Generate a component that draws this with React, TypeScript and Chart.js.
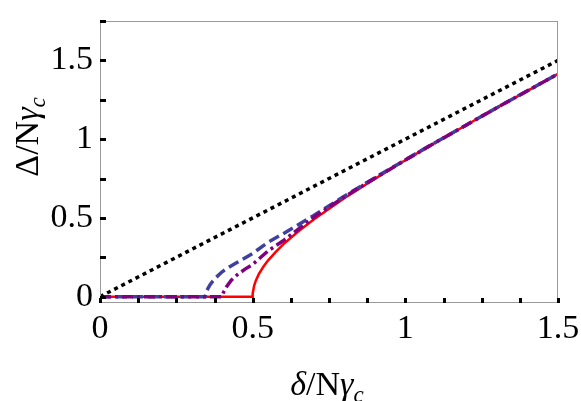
import { useEffect, useRef } from "react";
import { Chart, registerables } from "chart.js";
Chart.register(...registerables);

// δ/Nγc values and Δ/Nγc values
const diagX = [0, 1.5];
const diagY = [0, 1.5];

const redX = [0, 0.5, 0.5, 0.505, 0.51, 0.52, 0.535, 0.55, 0.575, 0.6, 0.65, 0.7, 0.8, 0.9, 1.0, 1.1, 1.2, 1.3, 1.4, 1.5];
const redY = [0, 0, 0.02, 0.071, 0.1, 0.143, 0.19, 0.229, 0.283, 0.332, 0.415, 0.49, 0.625, 0.748, 0.866, 0.98, 1.09, 1.2, 1.307, 1.414];

const blueX = [0, 0.344, 0.35, 0.36, 0.37, 0.38, 0.4, 0.425, 0.45, 0.5, 0.55, 0.6, 0.7, 0.8, 0.9, 1.0, 1.1, 1.2, 1.3, 1.4, 1.5];
const blueY = [0, 0, 0.04, 0.075, 0.1, 0.122, 0.158, 0.19, 0.218, 0.275, 0.345, 0.4, 0.515, 0.638, 0.755, 0.869, 0.981, 1.09, 1.2, 1.307, 1.414];

const purpleX = [0, 0.398, 0.405, 0.415, 0.43, 0.45, 0.475, 0.5, 0.55, 0.6, 0.7, 0.8, 0.9, 1.0, 1.1, 1.2, 1.3, 1.4, 1.5];
const purpleY = [0, 0, 0.03, 0.065, 0.105, 0.14, 0.175, 0.205, 0.29, 0.355, 0.505, 0.633, 0.752, 0.867, 0.98, 1.09, 1.2, 1.307, 1.414];

const xTicks = [0, 0.125, 0.25, 0.375, 0.5, 0.625, 0.75, 0.875, 1, 1.125, 1.25, 1.375, 1.5];
const yTicks = [0, 0.25, 0.5, 0.75, 1, 1.25, 1.5, 1.75];
const xLabels = ["0", "0.5", "1", "1.5"];
const yLabels = ["0", "0.5", "1", "1.5"];

const SERIF = "'Liberation Serif', 'Times New Roman', serif";
const FS = 34;

type Part = { t: string; italic?: boolean; sub?: boolean };
const xTitle: Part[] = [{ t: "δ", italic: true }, { t: "/N" }, { t: "γ", italic: true }, { t: "c", italic: true, sub: true }];
const yTitle: Part[] = [{ t: "Δ" }, { t: "/N" }, { t: "γ", italic: true }, { t: "c", italic: true, sub: true }];

function pts(xs: number[], ys: number[]) {
  return xs.map((x, i) => ({ x, y: ys[i] }));
}

function fontOf(p: Part, size: number) {
  const s = p.sub ? Math.round(size * 0.68) : size;
  return `${p.italic ? "italic " : ""}${s}px ${SERIF}`;
}

function drawRich(ctx: CanvasRenderingContext2D, parts: Part[], cx: number, cy: number, rot: number, size: number) {
  ctx.save();
  ctx.translate(cx, cy);
  ctx.rotate(rot);
  ctx.textBaseline = "alphabetic";
  ctx.textAlign = "left";
  let total = 0;
  const widths = parts.map((p) => {
    ctx.font = fontOf(p, size);
    const w = ctx.measureText(p.t).width;
    total += w;
    return w;
  });
  let x = -total / 2;
  parts.forEach((p, i) => {
    ctx.font = fontOf(p, size);
    ctx.fillStyle = "#000";
    ctx.fillText(p.t, x, p.sub ? size * 0.22 : 0);
    x += widths[i];
  });
  ctx.restore();
}

const framePlugin = {
  id: "framePlugin",
  afterDatasetsDraw(chart: any) {
    const { ctx, chartArea, scales } = chart;
    const { left, right, top, bottom } = chartArea;
    ctx.save();
    ctx.strokeStyle = "#9a9a9a";
    ctx.lineWidth = 1;
    ctx.strokeRect(left + 0.5, top + 0.5, right - left - 1, bottom - top - 1);
    ctx.fillStyle = "#000";
    xTicks.forEach((v) => {
      const px = Math.round(scales.x.getPixelForValue(v));
      ctx.fillRect(px - 1, bottom - 5, 3, 5);
    });
    yTicks.forEach((v) => {
      const py = Math.round(scales.y.getPixelForValue(v));
      ctx.fillRect(left, py - 1, 6, 3);
    });
    ctx.restore();
  },
  afterDraw(chart: any) {
    const { ctx } = chart;
    drawRich(ctx, xTitle, 327, 395, 0, FS);
    drawRich(ctx, yTitle, 38, 137, -Math.PI / 2, FS);
  },
};

export default function App() {
  const ref = useRef<HTMLCanvasElement>(null);
  useEffect(() => {
    if (!ref.current) return;
    const chart = new Chart(ref.current, {
      type: "line",
      data: {
        datasets: [
          {
            data: pts(diagX, diagY),
            borderColor: "#000000",
            borderWidth: 3.5,
            borderDash: [4, 4],
            pointRadius: 0,
            fill: false,
          },
          {
            data: pts(purpleX, purpleY),
            borderColor: "#800080",
            borderWidth: 3.5,
            borderDash: [11, 4, 3, 4],
            pointRadius: 0,
            fill: false,
            tension: 0,
          },
          {
            data: pts(blueX, blueY),
            borderColor: "#40409f",
            borderWidth: 3.5,
            borderDash: [11, 5],
            pointRadius: 0,
            fill: false,
            tension: 0,
          },
          {
            data: pts(redX, redY),
            borderColor: "#ff0000",
            borderWidth: 2.5,
            pointRadius: 0,
            fill: false,
            tension: 0,
          },
        ],
      },
      options: {
        animation: false,
        responsive: false,
        events: [],
        layout: { padding: { top: 21, right: 23, left: 0, bottom: 0 } },
        plugins: { legend: { display: false }, tooltip: { enabled: false } },
        scales: {
          x: {
            type: "linear",
            min: 0,
            max: 1.5,
            grid: { display: false, drawTicks: false },
            border: { display: false },
            afterFit: (s: any) => {
              s.height = 98;
              s.paddingLeft = 0;
              s.paddingRight = 0;
            },
            afterBuildTicks: (s: any) => {
              s.ticks = [0, 0.5, 1, 1.5].map((v) => ({ value: v }));
            },
            ticks: {
              font: { family: SERIF, size: FS },
              color: "#000",
              padding: 6,
              maxRotation: 0,
              callback: (_v: any, i: number) => xLabels[i],
            },
          },
          y: {
            type: "linear",
            min: -0.04,
            max: 1.75,
            grid: { display: false, drawTicks: false },
            border: { display: false },
            afterFit: (s: any) => {
              s.width = 100;
              s.paddingTop = 0;
              s.paddingBottom = 0;
            },
            afterBuildTicks: (s: any) => {
              s.ticks = [0, 0.5, 1, 1.5].map((v) => ({ value: v }));
            },
            ticks: {
              font: { family: SERIF, size: FS },
              color: "#000",
              padding: 7,
              callback: (_v: any, i: number) => yLabels[i],
            },
          },
        },
      },
      plugins: [framePlugin],
    });
    return () => chart.destroy();
  }, []);
  return (
    <div style={{ position: "fixed", left: 0, top: 0, width: 581, height: 401, background: "#fff" }}>
      <canvas ref={ref} width={581} height={401} style={{ width: 581, height: 401 }} />
    </div>
  );
}
